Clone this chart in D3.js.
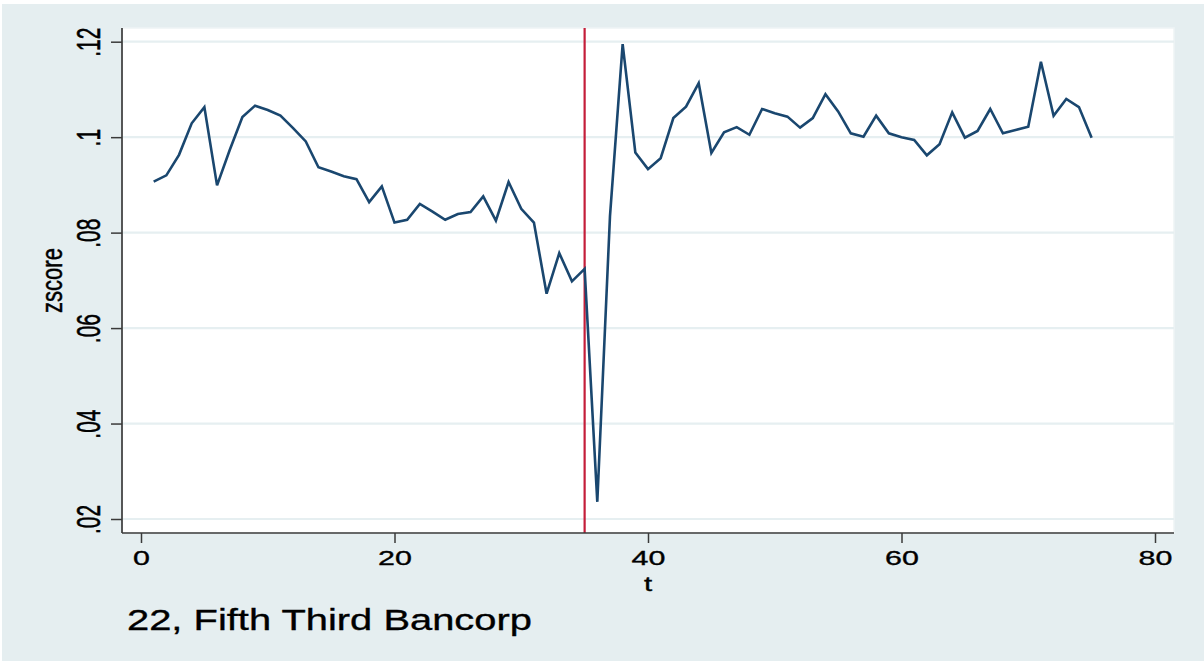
<!DOCTYPE html>
<html>
<head>
<meta charset="utf-8">
<script src="https://cdn.jsdelivr.net/npm/d3@7"></script>
<style>
  body { margin: 0; background: #ffffff; }
  svg { display: block; font-family: "Liberation Sans", Arial, Helvetica, sans-serif; }
  svg text { stroke: #000; stroke-width: 0.35px; }
</style>
</head>
<body>
<div id="chart"></div>
<script>
// zscore by t for one bank, with a vertical marker at t = 35

const tValues = [1, 2, 3, 4, 5, 6, 7, 8, 9, 10, 11, 12, 13, 14, 15, 16, 17, 18, 19, 20,
  21, 22, 23, 24, 25, 26, 27, 28, 29, 30, 31, 32, 33, 34, 35, 36, 37, 38, 39, 40,
  41, 42, 43, 44, 45, 46, 47, 48, 49, 50, 51, 52, 53, 54, 55, 56, 57, 58, 59, 60,
  61, 62, 63, 64, 65, 66, 67, 68, 69, 70, 71, 72, 73, 74, 75];

const zscore = [0.0907, 0.0920, 0.0963, 0.1029, 0.1063, 0.0899, 0.0973, 0.1042, 0.1066, 0.1057,
  0.1045, 0.1019, 0.0991, 0.0937, 0.0928, 0.0918, 0.0912, 0.0864, 0.0897, 0.0821,
  0.0827, 0.0860, 0.0844, 0.0827, 0.0839, 0.0843, 0.0876, 0.0825, 0.0906, 0.0850,
  0.0821, 0.0672, 0.0757, 0.0698, 0.0724, 0.0236, 0.0834, 0.1195, 0.0968, 0.0933,
  0.0956, 0.1040, 0.1064, 0.1113, 0.0967, 0.1010, 0.1021, 0.1005, 0.1059, 0.1050,
  0.1043, 0.1020, 0.1040, 0.1090, 0.1054, 0.1008, 0.1001, 0.1045, 0.1008, 0.1000,
  0.0994, 0.0962, 0.0985, 0.1052, 0.0999, 0.1013, 0.1059, 0.1008, 0.1015, 0.1022,
  0.1158, 0.1045, 0.1080, 0.1063, 0.0999];

const xTicks = [0, 20, 40, 60, 80];
const yTicks = [0.02, 0.04, 0.06, 0.08, 0.1, 0.12];
const yTickLabels = [".02", ".04", ".06", ".08", ".1", ".12"];
const eventT = 35;
const titleText = "22, Fifth Third Bancorp";

const W = 1204, H = 661;
const plot = { left: 122, right: 1174, top: 28, bottom: 533 };

const svg = d3.select("#chart").append("svg")
  .attr("width", W)
  .attr("height", H);

// graph region
svg.append("rect")
  .attr("x", 2).attr("y", 4)
  .attr("width", W - 2).attr("height", H - 4)
  .attr("fill", "#e5eef0");

// plot region
svg.append("rect")
  .attr("x", plot.left).attr("y", plot.top)
  .attr("width", plot.right - plot.left).attr("height", plot.bottom - plot.top)
  .attr("fill", "#ffffff")
  .attr("stroke", "#eef4f5")
  .attr("stroke-width", 1.5);

const x = d3.scaleLinear().domain([0, 80]).range([141, 1155]);
const y = d3.scaleLinear().domain([0.02, 0.12]).range([519, 41.7]);

// grid lines
svg.append("g")
  .selectAll("line")
  .data(yTicks)
  .enter().append("line")
  .attr("x1", plot.left).attr("x2", plot.right)
  .attr("y1", d => y(d)).attr("y2", d => y(d))
  .attr("stroke", "#e6eff1")
  .attr("stroke-width", 2.2);

// event line
svg.append("line")
  .attr("x1", x(eventT)).attr("x2", x(eventT))
  .attr("y1", plot.top).attr("y2", plot.bottom)
  .attr("stroke", "#c41e3a")
  .attr("stroke-width", 2.2);

// data line
const data = tValues.map((t, i) => ({ t: t, z: zscore[i] }));
svg.append("path")
  .datum(data)
  .attr("fill", "none")
  .attr("stroke", "#1a476f")
  .attr("stroke-width", 2.6)
  .attr("stroke-linejoin", "miter")
  .attr("d", d3.line().x(d => x(d.t)).y(d => y(d.z)));

// x axis
const xAxis = svg.append("g")
  .attr("transform", `translate(0,${plot.bottom})`)
  .call(d3.axisBottom(x).tickValues(xTicks).tickSize(10).tickSizeOuter(0).tickPadding(8));
xAxis.attr("font-family", null).attr("font-size", null);
xAxis.select(".domain")
  .attr("d", `M${plot.left},0H${plot.right}`)
  .attr("stroke", "#3a3a3a").attr("stroke-width", 1.7);
xAxis.selectAll(".tick line").attr("stroke", "#3a3a3a").attr("stroke-width", 1.5);
xAxis.selectAll(".tick text")
  .attr("y", 0).attr("dy", null)
  .attr("transform", "translate(0,32) scale(1.45,1)")
  .attr("font-size", 21)
  .attr("fill", "#000");

// y axis
const yAxis = svg.append("g")
  .attr("transform", `translate(${plot.left},0)`)
  .call(d3.axisLeft(y).tickValues(yTicks).tickSize(11).tickSizeOuter(0)
    .tickFormat((d, i) => yTickLabels[i]));
yAxis.attr("font-family", null).attr("font-size", null);
yAxis.select(".domain")
  .attr("d", `M0,${plot.top}V${plot.bottom}`)
  .attr("stroke", "#3a3a3a").attr("stroke-width", 1.7);
yAxis.selectAll(".tick line").attr("stroke", "#3a3a3a").attr("stroke-width", 1.5);
yAxis.selectAll(".tick text")
  .attr("x", 0).attr("dy", null)
  .attr("text-anchor", "middle")
  .attr("transform", "translate(-22,0) scale(1.6,1) rotate(-90)")
  .attr("font-size", 21)
  .attr("fill", "#000");

// axis titles
svg.append("text")
  .attr("transform", `translate(${(plot.left + plot.right) / 2},591) scale(1.4,1)`)
  .attr("text-anchor", "middle")
  .attr("font-size", 21)
  .text("t");

svg.append("text")
  .attr("transform", `translate(62,${(plot.top + plot.bottom) / 2}) scale(1.3,1) rotate(-90)`)
  .attr("text-anchor", "middle")
  .attr("font-size", 22)
  .text("zscore");

// note / title at bottom
svg.append("text")
  .attr("transform", "translate(127,630) scale(1.33,1)")
  .attr("font-size", 30)
  .text(titleText);
</script>
</body>
</html>
